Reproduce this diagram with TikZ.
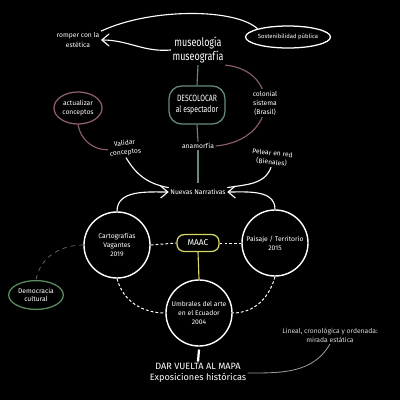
\documentclass[tikz,border=0pt]{standalone}
\usepackage{fontspec}
\setmainfont{Fira Sans}
\newfontfamily\narrowfont[FakeStretch=0.75]{Fira Sans}
\usepackage{tikz}
\usetikzlibrary{arrows.meta, positioning, shapes.geometric}
\definecolor{chalk-green}{RGB}{100,140,120}
\definecolor{chalk-pink}{RGB}{140,95,105}
\definecolor{chalk-leaf}{RGB}{90,140,95}
\definecolor{chalk-yellow}{RGB}{215,215,100}
\definecolor{chalk-gray}{RGB}{110,110,110}

\begin{document}
\begin{tikzpicture}[
    x=0.025cm, y=-0.025cm,
    every node/.style={text=white, align=center, inner sep=1pt},
    note/.style={font=\fontsize{4.8}{6.5}\selectfont},
    title/.style={font=\narrowfont\fontsize{8.5}{10.5}\selectfont},
    big/.style={font=\fontsize{6.5}{8}\selectfont},
    chalk/.style={draw=white, line width=0.8pt},
    exhib/.style={circle, draw=white, line width=1pt, minimum size=1.65cm,
                  font=\fontsize{4.8}{6.5}\selectfont},
    blob/.style={ellipse, line width=0.9pt, font=\fontsize{4.8}{6}\selectfont},
    link/.style={draw=white, line width=0.7pt, dashed, dash pattern=on 2pt off 1.5pt},
    arr/.style={chalk, -{Straight Barb[length=1.8mm, width=3mm]}},
  ]
    \fill[black] (0,0) rectangle (400,400);

    % upper part
    \node[title] (museo) at (198,50) {museología\\museografía};
    \node[note] (romper) at (78,40) {romper con la\\estética};
    \node[blob, draw=white, inner sep=0pt, minimum width=1.45cm, minimum height=0.55cm,
          font=\fontsize{4.2}{5}\selectfont] (sost) at (288,37) {Sostenibilidad pública};
    \node[rectangle, rounded corners=9pt, draw=chalk-green, line width=0.9pt,
          minimum width=1.4cm, minimum height=0.95cm,
          font=\narrowfont\fontsize{6.5}{8}\selectfont] (descol) at (197,105)
      {DESCOLOCAR\\al espectador};
    \node[note] (anam) at (198,146) {anamorfía};
    \node[note, rotate=-6] (pelear) at (272,158) {Pelear en red\\(Bienales)};
    \node[blob, draw=chalk-pink, minimum width=1.15cm, minimum height=0.8cm]
      (actual) at (78,108) {actualizar\\conceptos};
    \node[note, rotate=6] (validar) at (125,148) {Validar\\conceptos};
    \node[note] (narr) at (198,192) {Nuevas Narrativas};

    \draw[chalk] (romper.north east) .. controls (150,8) and (235,8) .. (sost.north west);
    \draw[arr] (museo.west) to[out=185,in=0] (romper.east);
    \draw[chalk-green, line width=0.8pt] (museo.south) -- (descol.north);
    \draw[chalk-green, line width=0.8pt] (descol.south) -- (anam.north);
    \draw[chalk-green, line width=0.8pt] (anam.south) -- ([yshift=3pt]narr.north);
    \draw[chalk-pink, line width=0.8pt] (museo.south east)
      .. controls (280,70) and (280,140) .. (anam.east);
    \node[note, fill=black] (colon) at (265,103) {colonial\\sistema\\(Brasil)};
    \draw[chalk-pink, line width=0.8pt] (actual.south) to[out=-80,in=180] (validar.west);
    \draw[chalk] (validar.south) to[out=-60,in=170] (narr.north west);
    \draw[chalk] (pelear.south) to[out=-110,in=10] (narr.north east);

    % exhibitions
    \node[exhib] (cart) at (117,245) {Cartografías\\Vagantes\\2019};
    \node[exhib] (paisaje) at (275,243) {Paisaje / Territorio\\2015};
    \node[exhib] (umbr) at (199,313) {Umbrales del arte\\en el Ecuador\\2004};
    \node[rectangle, rounded corners=5pt, draw=chalk-yellow, line width=0.9pt,
          minimum width=1.05cm, minimum height=0.42cm,
          font=\fontsize{6}{7}\selectfont] (maac) at (198,243) {MAAC};
    \node[blob, draw=chalk-leaf, minimum width=1.2cm, minimum height=0.72cm]
      (demo) at (36,295) {Democracia\\cultural};

    \draw[link] (cart.east) -- (maac.west);
    \draw[link] (maac.east) -- (paisaje.west);
    \draw[chalk-yellow, line width=0.8pt] (maac.south) -- (umbr.north);
    \draw[link] (cart.south) to[out=-75,in=180] (umbr.west);
    \draw[link] (paisaje.south) to[out=-105,in=0] (umbr.east);
    \draw[chalk-gray, line width=0.5pt, dashed] (cart.west) to[out=180,in=80] (demo.north);
    \draw[arr] (cart.north) to[out=90,in=180] (narr.west);
    \draw[arr] (paisaje.north) to[out=90,in=0] (narr.east);

    % bottom
    \node[big] (dar) at (198,373) {DAR VUELTA AL MAPA\\Exposiciones históricas};
    \node[note, text=white!85!black] (lineal) at (330,335)
      {Lineal, cronológica y ordenada:\\mirada estática};
    \draw[white, line width=1.6pt] ([yshift=-2pt]umbr.south) -- (dar.north);
    \draw[chalk-gray!70, line width=0.6pt] (lineal.south) to[out=-120,in=0] (dar.east);
\end{tikzpicture}
\end{document}
